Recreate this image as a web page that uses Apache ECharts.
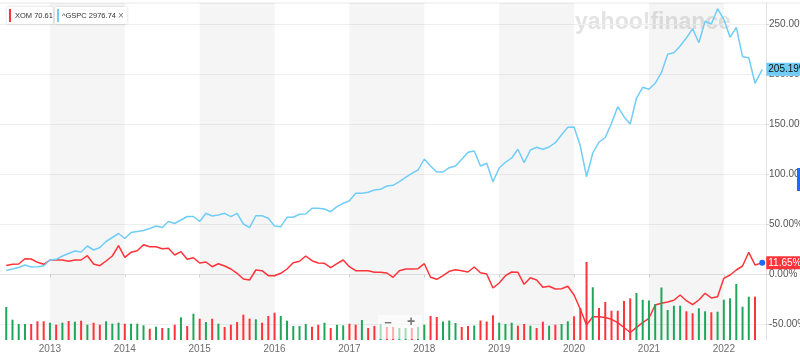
<!DOCTYPE html>
<html>
<head>
<meta charset="utf-8">
<script src="https://cdn.jsdelivr.net/npm/echarts@6/dist/echarts.min.js"></script>
<style>
  html, body { margin: 0; padding: 0; background: #fff; }
  #chart { width: 800px; height: 357px; }
</style>
</head>
<body>
<div id="chart"></div>
<script>
// tick labels / categories
var yearLabels = ["2013", "2014", "2015", "2016", "2017", "2018", "2019", "2020", "2021", "2022"];
var shadedYears = ["2013", "2015", "2017", "2019", "2021"];
var pctTicks = [-50, 0, 50, 100, 150, 200, 250];
var legendText = ["XOM 70.61", "^GSPC 2976.74"];

// monthly points, first one is 2012-06, last monthly one 2022-06
var firstMonth = "2012-06";
var lastDate = "2022-07-06";

// % change, XOM
var xomPct = [
  9, 10.2, 10.5, 15.8, 15.5, 12.2, 10.2, 14.5, 14.5, 14.5,
  13.2, 14.5, 14.5, 18.8, 10.5, 8.8, 13.5, 18.5, 28.8, 17.2,
  22.2, 23.8, 29.8, 27.8, 27.8, 25.8, 26.2, 19.5, 22.8, 15.2,
  16.8, 11.5, 12.5, 7.8, 10.8, 8.5, 5.5, 1.2, -4.5, -5.5,
  4.5, 3.8, -1.2, -1.2, 1.2, 5.5, 11.8, 13.2, 18.5, 13.8,
  11.5, 11.2, 6.8, 10.8, 14.5, 7.8, 3.8, 3.8, 3.8, 2.2,
  2.2, 1.5, -2.8, 3.8, 5.5, 5.5, 5.8, 10.8, -2.8, -4.8,
  -1.2, 3.2, 4.8, 3.8, 2.5, 7.5, 1.8, 0.5, -13.5, -8.5,
  -1.2, 2.5, 2.2, -9.8, -3.2, -5.5, -12.8, -11.8, -14.5, -14.2,
  -11.8, -20.5, -34.8, -50.5, -42.2, -42.2, -43, -44.8, -48.2, -53,
  -58, -52.8, -48.2, -43.8, -30.5, -28.8, -27.5, -25.8, -20.5, -26.2,
  -30.2, -25.5, -18.8, -23.5, -22.2, -3.8, -0.5, 4.5, 8.5, 22.2, 9.5
];
var xomLast = 11.65;

// % change, S&P 500
var gspcPct = [
  4, 5.5, 7, 9.5, 7.5, 7.8, 8.5, 14.5, 15.2, 18.5,
  21, 23.5, 22.5, 28.5, 24.5, 27, 33, 37, 41, 36,
  42, 43, 44, 46, 48.5, 47, 53, 51, 54.5, 58,
  58, 53, 61.2, 58.5, 59.5, 61.2, 57.8, 61.2, 50.5, 46.8,
  58.8, 58.8, 56.2, 48.5, 47.8, 57.2, 57.2, 60.2, 60.5, 66.2,
  66.2, 65.5, 62.8, 67.8, 71.2, 73.8, 81.2, 81.2, 82.2, 84.5,
  85.2, 88.5, 89.2, 92.8, 97.2, 101.2, 104.5, 115.5, 108.5, 102.5,
  102.5, 106.8, 108.5, 115.2, 122.2, 123.5, 108.5, 111.2, 92.8, 106.5,
  112.2, 116.5, 125.2, 111.8, 124.5, 127.2, 125.2, 127.5, 131.8, 139.8,
  147.2, 147.5, 128.5, 97.8, 121.5, 132.5, 137, 151.2, 167.8, 157.8,
  150.5, 176.2, 187.2, 185.2, 191.2, 201.8, 220.2, 221.8, 228.5, 236.5,
  245.8, 231.8, 253.2, 250.5, 265.8, 255.2, 237.2, 247.2, 217.8, 216.8, 191.2
];
var gspcLast = 205.19;

// XOM monthly volume (relative units) and direction of the month
var volume = [
  33, 20.3, 16, 16, 16, 18.7, 18.7, 17.3, 15.3, 17.3,
  19, 18.3, 19.3, 15.3, 17.3, 15.3, 18.7, 16.3, 17.3, 16.3,
  16.3, 16.3, 14.7, 11.3, 13.3, 12, 12, 15.3, 22.7, 14,
  26.3, 21.3, 18, 21.3, 16.3, 13, 15.3, 18, 25.3, 21.3,
  20.7, 17.3, 24, 27.3, 24, 19.3, 14, 14, 16, 13.3,
  15.3, 17.3, 12, 15.3, 14.7, 16.3, 15.3, 20, 12, 14,
  16, 13, 13, 12, 12, 12, 13, 15.3, 24, 23,
  18.5, 19.5, 17, 13, 14, 14.5, 19.5, 18.5, 24.7, 17.3,
  16, 17.3, 14.3, 16, 14.3, 12, 18.3, 14.3, 15.3, 16,
  18.7, 23.7, 32, 78, 52.7, 32, 38, 29.3, 29.3, 39,
  41.7, 47, 40.2, 39.5, 36, 52.5, 30, 34.3, 34.3, 28.7,
  26.7, 31.7, 28.7, 27.7, 28.3, 40.3, 41.7, 56, 33.3, 43.3, 43.3
];
var volumeDir = [
  "G", "G", "G", "G", "R", "R", "R", "G", "R", "G",
  "R", "G", "R", "G", "R", "R", "G", "G", "G", "R",
  "G", "G", "G", "R", "G", "R", "G", "R", "G", "R",
  "G", "R", "G", "R", "G", "R", "R", "R", "R", "R",
  "G", "R", "R", "R", "G", "G", "G", "G", "G", "R",
  "R", "G", "R", "G", "G", "R", "R", "G", "R", "R",
  "G", "R", "R", "G", "G", "R", "G", "G", "R", "R",
  "G", "G", "G", "R", "R", "G", "R", "R", "R", "G",
  "G", "G", "R", "R", "G", "R", "R", "G", "R", "G",
  "G", "R", "R", "R", "G", "R", "R", "R", "R", "R",
  "R", "G", "G", "G", "G", "G", "G", "G", "G", "R",
  "R", "G", "G", "R", "G", "G", "G", "G", "G", "G", "R"
];

var RED = "#ff333a";
var GREEN = "#1fa65a";
var BLUE = "#70cdf8";
var FONT = "Liberation Sans";
var BASE_YEAR = 2012;

// month index, Jan 2012 = 0
function monthIndex(str) {
  var p = str.split("-").map(Number);
  var idx = (p[0] - BASE_YEAR) * 12 + (p[1] - 1);
  if (p.length > 2) {
    var days = new Date(p[0], p[1], 0).getDate();
    idx += (p[2] - 1) / days;
  }
  return idx;
}

var start = monthIndex(firstMonth);
var lastX = monthIndex(lastDate);

var xomData = xomPct.map(function (v, i) { return [start + i, v]; });
xomData.push([lastX, xomLast]);
var gspcData = gspcPct.map(function (v, i) { return [start + i, v]; });
gspcData.push([lastX, gspcLast]);

var volData = volume.map(function (v, i) {
  return { value: [start + i, v], itemStyle: { color: volumeDir[i] === "G" ? GREEN : RED } };
});

var yearTicks = yearLabels.map(function (y) { return (Number(y) - BASE_YEAR) * 12; });
var bands = shadedYears.map(function (y) {
  var s = (Number(y) - BASE_YEAR) * 12;
  return [{ xAxis: s }, { xAxis: s + 12 }];
});

function pctFmt(v) { return v.toFixed(2) + "%"; }

var myChart = echarts.init(document.getElementById("chart"), null, { renderer: "canvas" });

var option = {
  animation: false,
  textStyle: { fontFamily: FONT },
  grid: { left: 0, right: 34, top: 3, bottom: 17, containLabel: false, outerBoundsMode: "none" },
  xAxis: {
    type: "value",
    min: 4,
    max: 126.76,
    axisLine: { show: true, lineStyle: { color: "#e3e3e3" } },
    axisTick: { show: true, length: 3, customValues: yearTicks, lineStyle: { color: "#d5d5d5" } },
    axisLabel: {
      customValues: yearTicks,
      margin: 4,
      fontSize: 10,
      color: "#6e6e6e",
      formatter: function (v) { return yearLabels[yearTicks.indexOf(v)] || ""; }
    },
    splitLine: { show: false }
  },
  yAxis: [
    {
      type: "value",
      position: "right",
      min: -65.5,
      max: 271.5,
      axisLine: { show: true, lineStyle: { color: "#e3e3e3" } },
      axisTick: { show: true, length: 3, customValues: pctTicks, lineStyle: { color: "#d5d5d5" } },
      axisLabel: { customValues: pctTicks, margin: 3, fontSize: 10, color: "#555", formatter: pctFmt },
      splitLine: { show: true, lineStyle: { color: "#efefef" } }
    },
    { type: "value", min: 0, max: 337, show: false }
  ],
  series: [
    {
      // shaded year bands
      type: "line",
      data: [],
      z: 1,
      silent: true,
      markArea: { silent: true, itemStyle: { color: "rgba(0,0,0,0.04)" }, data: bands }
    },
    {
      name: "XOM",
      type: "line",
      data: xomData,
      showSymbol: false,
      z: 2,
      lineStyle: { color: RED, width: 1.5 },
      itemStyle: { color: RED },
      endLabel: {
        show: true,
        distance: 4,
        formatter: function (p) { return pctFmt(p.value[1]); },
        backgroundColor: RED,
        color: "#fff",
        fontSize: 10,
        padding: [2, 2, 1, 2]
      },
      markPoint: {
        silent: true,
        data: [{ coord: [lastX, xomLast], symbol: "circle", symbolSize: 6, itemStyle: { color: "#1a6cff" }, label: { show: false } }]
      }
    },
    {
      name: "^GSPC",
      type: "line",
      data: gspcData,
      showSymbol: false,
      z: 4,
      lineStyle: { color: BLUE, width: 1.5 },
      itemStyle: { color: BLUE },
      endLabel: {
        show: true,
        distance: 4,
        formatter: function (p) { return pctFmt(p.value[1]); },
        backgroundColor: BLUE,
        color: "#111",
        fontSize: 10,
        padding: [2, 2, 1, 2]
      }
    },
    {
      name: "Volume",
      type: "bar",
      yAxisIndex: 1,
      barWidth: 2,
      z: 3,
      data: volData
    }
  ],
  graphic: [
    { type: "line", shape: { x1: 0, y1: 3, x2: 800, y2: 3 }, style: { stroke: "#e8e8e8", lineWidth: 1 }, z: 0 },
    {
      type: "text", left: 575, top: 11, z: 0,
      style: { text: "yahoo!finance", font: "bold 23px " + FONT, fill: "#e3e3e3" }
    },
    // legend chips
    { type: "rect", shape: { x: 7, y: 7, width: 46, height: 17, r: 1 }, style: { fill: "#fff", shadowBlur: 3, shadowColor: "rgba(0,0,0,0.18)" }, z: 10 },
    { type: "rect", shape: { x: 9, y: 9, width: 2, height: 13 }, style: { fill: RED }, z: 11 },
    { type: "text", x: 15, y: 16, z: 11, style: { text: legendText[0], font: "7.5px " + FONT, fill: "#333", textVerticalAlign: "middle" } },
    { type: "rect", shape: { x: 55, y: 7, width: 72, height: 17, r: 1 }, style: { fill: "#fff", shadowBlur: 3, shadowColor: "rgba(0,0,0,0.18)" }, z: 10 },
    { type: "rect", shape: { x: 57, y: 9, width: 2, height: 13 }, style: { fill: BLUE }, z: 11 },
    { type: "text", x: 62, y: 16, z: 11, style: { text: legendText[1], font: "7.5px " + FONT, fill: "#333", textVerticalAlign: "middle" } },
    { type: "text", x: 118, y: 16, z: 11, style: { text: "×", font: "10px " + FONT, fill: "#777", textVerticalAlign: "middle" } },
    // zoom buttons overlay
    { type: "rect", shape: { x: 378, y: 315, width: 44, height: 24 }, style: { fill: "rgba(255,255,255,0.6)" }, z: 20 },
    { type: "text", x: 388, y: 323, z: 21, style: { text: "−", font: "bold 13px " + FONT, fill: "#777", textAlign: "center", textVerticalAlign: "middle" } },
    { type: "text", x: 411, y: 322, z: 21, style: { text: "+", font: "bold 14px " + FONT, fill: "#777", textAlign: "center", textVerticalAlign: "middle" } },
    // right edge tab
    { type: "rect", shape: { x: 797, y: 168, width: 3, height: 23 }, style: { fill: "#1a6cff" }, z: 10 }
  ]
};

myChart.setOption(option);
window.addEventListener("resize", myChart.resize);
</script>
</body>
</html>
